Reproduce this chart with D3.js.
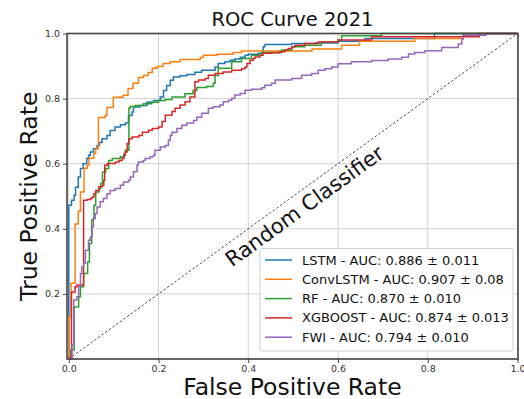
<!DOCTYPE html>
<html>
<head>
<meta charset="utf-8">
<script src="https://cdn.jsdelivr.net/npm/d3@7"></script>
<style>
  body { margin: 0; background: #fff; }
  svg text { font-family: "DejaVu Sans", sans-serif; }
</style>
</head>
<body>
<div id="svg_chart"></div>
<script>
///////////// Chapter 1. Data //////////////
// each point = [fpr, tpr] where the curve steps up to tpr
var model_names = ['LSTM', 'ConvLSTM', 'RF', 'XGBOOST', 'FWI'];
var auc_values = ['0.886', '0.907', '0.870', '0.874', '0.794'];
var auc_std = ['0.011', '0.08', '0.010', '0.013', '0.010'];
var model_colors = ['#1f77b4', '#ff7f0e', '#2ca02c', '#d62728', '#9467bd'];
var tick_values = [0.0, 0.2, 0.4, 0.6, 0.8, 1.0];

var lstm_roc = [[0,0],[0,0.472],[0.006,0.488],[0.012,0.503],[0.015,0.528],[0.021,0.559],[0.026,0.585],
  [0.032,0.6],[0.04,0.616],[0.044,0.626],[0.048,0.636],[0.055,0.646],[0.063,0.656],[0.068,0.665],
  [0.074,0.677],[0.085,0.687],[0.092,0.702],[0.103,0.713],[0.115,0.72],[0.126,0.725],[0.133,0.748],
  [0.141,0.759],[0.144,0.774],[0.159,0.779],[0.174,0.789],[0.189,0.794],[0.204,0.805],[0.211,0.825],
  [0.218,0.84],[0.226,0.856],[0.233,0.866],[0.248,0.87],[0.263,0.874],[0.281,0.881],[0.296,0.887],
  [0.326,0.897],[0.333,0.908],[0.348,0.913],[0.359,0.918],[0.37,0.922],[0.382,0.927],[0.393,0.933],
  [0.4,0.936],[0.422,0.939],[0.433,0.959],[0.437,0.966],[0.497,0.969],[0.548,0.971],[0.6,0.976],
  [0.66,0.985],[0.815,1.0],[1,1]];

var convlstm_roc = [[0,0],[0,0.13],[0.005,0.233],[0.014,0.415],[0.021,0.454],[0.026,0.513],[0.034,0.586],
  [0.041,0.595],[0.045,0.617],[0.056,0.632],[0.06,0.647],[0.066,0.742],[0.081,0.748],[0.085,0.773],
  [0.099,0.804],[0.121,0.81],[0.132,0.831],[0.143,0.847],[0.155,0.865],[0.166,0.871],[0.177,0.88],
  [0.186,0.893],[0.197,0.899],[0.21,0.908],[0.226,0.913],[0.248,0.92],[0.293,0.926],[0.3,0.933],
  [0.33,0.936],[0.366,0.942],[0.385,0.946],[0.542,0.952],[0.608,0.964],[0.648,0.976],[0.771,0.985],
  [0.878,1.0],[1,1]];

var rf_roc = [[0,0],[0.004,0.028],[0.012,0.058],[0.012,0.16],[0.022,0.191],[0.026,0.222],[0.033,0.227],
  [0.033,0.263],[0.042,0.298],[0.046,0.304],[0.046,0.355],[0.051,0.365],[0.051,0.426],[0.054,0.432],
  [0.056,0.472],[0.06,0.483],[0.06,0.513],[0.067,0.523],[0.071,0.539],[0.075,0.544],[0.075,0.574],
  [0.082,0.585],[0.089,0.61],[0.097,0.616],[0.115,0.621],[0.123,0.631],[0.126,0.641],[0.134,0.656],
  [0.134,0.77],[0.137,0.776],[0.148,0.779],[0.166,0.784],[0.185,0.789],[0.2,0.794],[0.215,0.797],
  [0.23,0.805],[0.259,0.815],[0.277,0.825],[0.285,0.834],[0.307,0.837],[0.322,0.847],[0.326,0.871],
  [0.333,0.893],[0.363,0.913],[0.385,0.923],[0.407,0.933],[0.43,0.942],[0.474,0.949],[0.497,0.959],
  [0.526,0.964],[0.563,0.974],[0.6,0.979],[0.608,0.993],[0.697,1.0],[1,1]];

var xgboost_roc = [[0,0],[0.004,0.007],[0.006,0.206],[0.014,0.222],[0.018,0.227],[0.033,0.488],
  [0.041,0.49],[0.048,0.493],[0.052,0.498],[0.056,0.508],[0.06,0.518],[0.067,0.529],[0.075,0.534],
  [0.078,0.549],[0.08,0.595],[0.086,0.601],[0.104,0.605],[0.112,0.61],[0.119,0.616],[0.123,0.626],
  [0.126,0.636],[0.13,0.662],[0.134,0.677],[0.141,0.682],[0.156,0.687],[0.164,0.697],[0.178,0.703],
  [0.186,0.708],[0.2,0.713],[0.208,0.73],[0.215,0.749],[0.23,0.76],[0.237,0.77],[0.248,0.78],
  [0.259,0.79],[0.27,0.805],[0.281,0.816],[0.281,0.852],[0.289,0.857],[0.304,0.862],[0.311,0.872],
  [0.326,0.877],[0.344,0.882],[0.363,0.887],[0.385,0.892],[0.393,0.897],[0.397,0.908],[0.404,0.918],
  [0.411,0.923],[0.415,0.928],[0.426,0.933],[0.433,0.939],[0.452,0.941],[0.47,0.944],[0.482,0.949],
  [0.489,0.954],[0.497,0.959],[0.504,0.964],[0.526,0.969],[0.556,0.974],[0.6,0.98],[0.675,0.99],
  [0.915,1.0],[1,1]];

var fwi_roc = [[0,0],[0.007,0.043],[0.011,0.099],[0.011,0.181],[0.018,0.191],[0.022,0.222],[0.026,0.263],
  [0.029,0.283],[0.033,0.294],[0.037,0.334],[0.044,0.365],[0.048,0.375],[0.052,0.406],[0.055,0.432],
  [0.059,0.447],[0.063,0.467],[0.07,0.483],[0.077,0.493],[0.085,0.508],[0.092,0.518],[0.103,0.524],
  [0.115,0.534],[0.122,0.544],[0.133,0.549],[0.137,0.559],[0.144,0.575],[0.152,0.595],[0.155,0.605],
  [0.166,0.61],[0.17,0.616],[0.181,0.621],[0.189,0.626],[0.192,0.641],[0.204,0.651],[0.215,0.656],
  [0.222,0.672],[0.226,0.687],[0.23,0.697],[0.241,0.708],[0.252,0.718],[0.263,0.725],[0.278,0.733],
  [0.285,0.743],[0.296,0.755],[0.311,0.77],[0.322,0.775],[0.337,0.78],[0.344,0.79],[0.356,0.795],
  [0.363,0.801],[0.37,0.811],[0.382,0.816],[0.393,0.826],[0.408,0.829],[0.43,0.833],[0.437,0.841],
  [0.452,0.847],[0.46,0.857],[0.497,0.862],[0.519,0.872],[0.541,0.877],[0.556,0.887],[0.571,0.892],
  [0.586,0.897],[0.6,0.907],[0.63,0.913],[0.675,0.917],[0.712,0.922],[0.742,0.927],[0.757,0.937],
  [0.771,0.942],[0.794,0.947],[0.831,0.957],[0.868,0.968],[0.876,0.983],[0.879,0.995],[0.93,1.0],[1,1]];

var roc_curves = [lstm_roc, convlstm_roc, rf_roc, xgboost_roc, fwi_roc];
///////////// Chapter 1. End /////////////

///////////// Chapter 2. Frame, axes, grid //////////////
const svg_width = 524
const svg_height = 399
const plot = {left: 67, right: 518, top: 33.5, bottom: 359}

var svg = d3.select('#svg_chart').append('svg')
.attr('width', svg_width)
.attr('height', svg_height);

var x_scale = d3.scaleLinear().domain([-0.004, 1.0]).range([plot.left, plot.right - 0.5]);
var y_scale = d3.scaleLinear().domain([0, 1.0]).range([plot.bottom, plot.top]);

// grid
svg.append('g').selectAll('line').data(tick_values).enter().append('line')
.attr('x1', d => x_scale(d)).attr('x2', d => x_scale(d))
.attr('y1', plot.top).attr('y2', plot.bottom)
.attr('stroke', '#d3d3d3').attr('stroke-width', 1);

svg.append('g').selectAll('line').data(tick_values).enter().append('line')
.attr('y1', d => y_scale(d)).attr('y2', d => y_scale(d))
.attr('x1', plot.left).attr('x2', plot.right)
.attr('stroke', '#d3d3d3').attr('stroke-width', 1);

var xAxis = d3.axisBottom(x_scale).tickValues(tick_values).tickFormat(d3.format('.1f')).tickSize(4).tickPadding(2);
var xAxisG = svg.append('g').attr('transform', 'translate(0,' + plot.bottom + ')').call(xAxis);

var yAxis = d3.axisLeft(y_scale).tickValues(tick_values.slice(1)).tickFormat(d3.format('.1f')).tickSize(4).tickPadding(3);
var yAxisG = svg.append('g').attr('transform', 'translate(' + plot.left + ',0)').call(yAxis);

[xAxisG, yAxisG].forEach(function(g){
  g.select('.domain').remove();
  g.selectAll('.tick line').attr('stroke', '#444');
  g.selectAll('.tick text').attr('fill', '#333').attr('font-size', 9.5)
   .style('font-family', '"DejaVu Sans", sans-serif');
});
///////////// Chapter 2. End /////////////

///////////// Chapter 3. Curves //////////////
// random classifier diagonal
svg.append('line')
.attr('x1', x_scale(0)).attr('y1', y_scale(0))
.attr('x2', x_scale(1)).attr('y2', y_scale(1))
.attr('stroke', '#222').attr('stroke-width', 0.8)
.attr('stroke-dasharray', '2.5,2');

var roc_line = d3.line()
.x(d => x_scale(d[0]))
.y(d => y_scale(d[1]))
.curve(d3.curveStepAfter);

svg.append('g').selectAll('path').data(roc_curves).enter().append('path')
.attr('d', roc_line)
.attr('fill', 'none')
.attr('stroke', (d, i) => model_colors[i])
.attr('stroke-width', 1.5)
.attr('stroke-linejoin', 'miter');

// frame (spines)
svg.append('rect').attr('fill', 'none').attr('stroke', '#444').attr('stroke-width', 1.6)
.attr('x', plot.left).attr('y', plot.top)
.attr('width', plot.right - plot.left)
.attr('height', plot.bottom - plot.top);

// diagonal label
var angle = Math.atan2(y_scale(0) - y_scale(1), x_scale(1) - x_scale(0)) * 180 / Math.PI;
svg.append('text')
.attr('transform', 'translate(' + (x_scale(0.525)) + ',' + (y_scale(0.47)) + ') rotate(' + (-angle) + ')')
.attr('text-anchor', 'middle')
.attr('dy', '0.35em')
.attr('font-size', 21)
.attr('fill', '#111')
.text('Random Classifier');
///////////// Chapter 3. End /////////////

///////////// Chapter 4. Titles and legend //////////////
svg.append('text')
.attr('x', (plot.left + plot.right) / 2).attr('y', 26)
.attr('text-anchor', 'middle').attr('font-size', 19.5).attr('fill', '#111')
.text('ROC Curve 2021');

svg.append('text')
.attr('x', (plot.left + plot.right) / 2).attr('y', 395)
.attr('text-anchor', 'middle').attr('font-size', 23.5).attr('fill', '#111')
.text('False Positive Rate');

svg.append('text')
.attr('transform', 'translate(37,' + ((plot.top + plot.bottom) / 2) + ') rotate(-90)')
.attr('text-anchor', 'middle').attr('font-size', 23.5).attr('fill', '#111')
.text('True Positive Rate');

const legend_x = 260, legend_y = 248.5, row_h = 19.3

svg.append('rect')
.attr('x', legend_x).attr('y', legend_y)
.attr('width', 253).attr('height', 102.5)
.attr('rx', 3)
.attr('fill', '#fff').attr('fill-opacity', 0.8)
.attr('stroke', '#d0d0d0').attr('stroke-width', 1);

var legend = svg.selectAll('.legend').data(model_names).enter().append('g').attr('class', 'legend')
.attr('transform', (d, i) => 'translate(' + legend_x + ',' + (legend_y + 11.5 + i * row_h) + ')');

legend.append('line')
.attr('x1', 5).attr('x2', 32).attr('y1', 0).attr('y2', 0)
.attr('stroke', (d, i) => model_colors[i]).attr('stroke-width', 1.5);

legend.append('text')
.attr('x', 42).attr('dy', '0.35em')
.attr('font-size', 13).attr('fill', '#111')
.text((d, i) => d + ' - AUC: ' + auc_values[i] + ' \u00b1 ' + auc_std[i]);
///////////// Chapter 4. End /////////////
</script>
</body>
</html>
